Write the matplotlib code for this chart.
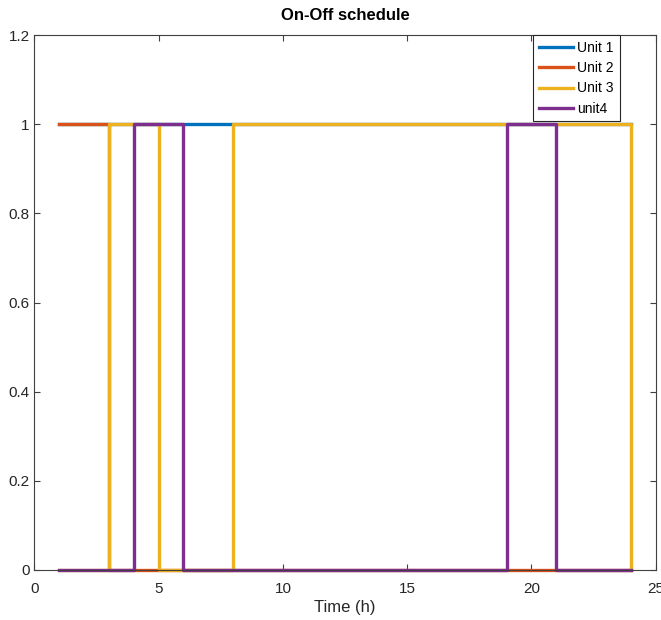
import numpy as np
import matplotlib
matplotlib.use("Agg")
import matplotlib.pyplot as plt

plt.rcParams['font.family'] = ['Liberation Sans', 'DejaVu Sans']

hours = np.arange(1, 25)
unit1 = [1] * 24
unit2 = [1, 1] + [0] * 22
unit3 = [0, 0, 1, 1, 0, 0, 0] + [1] * 16 + [0]
unit4 = [0, 0, 0, 1, 1] + [0] * 13 + [1, 1] + [0] * 4

labels = ['Unit 1', 'Unit 2', 'Unit 3', 'unit4']
colors = ['#0072BD', '#D95319', '#EDB120', '#7E2F8E']

fig = plt.figure(figsize=(6.61, 6.20), dpi=100)
ax = fig.add_axes([0.052, 0.081, 0.940, 0.862])

for y, lab, c in zip([unit1, unit2, unit3, unit4], labels, colors):
    ax.step(hours, y, where='post', color=c, linewidth=2.4, label=lab, clip_on=False)

ax.set_xlim(0, 25)
ax.set_ylim(0, 1.2)
ax.set_xticks([0, 5, 10, 15, 20, 25])
ax.set_yticks([0, 0.2, 0.4, 0.6, 0.8, 1.0, 1.2])
ax.set_yticklabels(['0', '0.2', '0.4', '0.6', '0.8', '1', '1.2'])
ax.tick_params(direction='in', labelsize=11, top=True, right=True, length=4,
               color='#404040', labelcolor='#262626')
ax.tick_params(axis='x', pad=9)
for s in ax.spines.values():
    s.set_color('#404040')
    s.set_linewidth(0.8)
ax.set_xlabel('Time (h)', fontsize=12, color='#262626', labelpad=3)
ax.set_title('On-Off schedule', fontsize=12, fontweight='bold', pad=11)

leg = ax.legend(loc='upper right', bbox_to_anchor=(0.942, 1.0), borderaxespad=0,
                fancybox=False, framealpha=1, edgecolor='#262626', fontsize=10,
                handlelength=2.5, labelspacing=0.45, borderpad=0.4, handletextpad=0.3)
leg.get_frame().set_linewidth(0.8)

fig.savefig('out.png', dpi=100)
